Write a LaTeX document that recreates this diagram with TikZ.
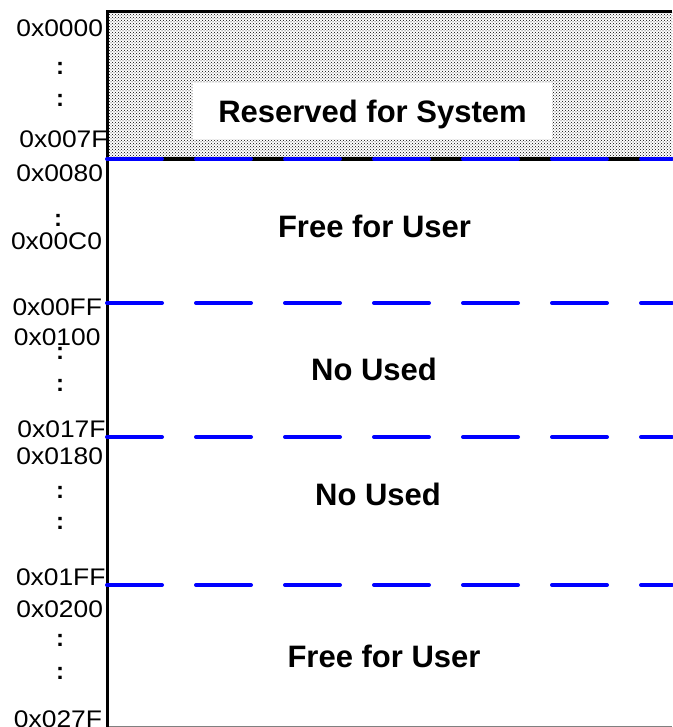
\documentclass[tikz,border=0pt]{standalone}
\usepackage{fontspec}
\setmainfont{Liberation Sans}
\newfontfamily\addrfont[FakeStretch=1.1]{Liberation Sans}
\usepackage{xcolor}
\usepackage{tikz}
\usetikzlibrary{patterns, positioning}

\begin{document}
\begin{tikzpicture}[
    x=1pt, y=-1pt,
    every node/.style={inner sep=0pt, outer sep=0pt},
    addr/.style={anchor=base east, font=\addrfont\fontsize{24}{28}\selectfont},
    vdots/.style={anchor=center, font=\bfseries\fontsize{24}{28}\selectfont},
    region/.style={anchor=base, font=\bfseries\fontsize{31}{36}\selectfont},
    border/.style={line width=3pt, black},
    bound/.style={line width=4pt, blue, line cap=round, dash pattern=on 55pt off 34pt}
]
\useasboundingbox (0,0) rectangle (672,727);

% Reserved area
\fill[pattern=crosshatch dots, pattern color=black] (107,12) rectangle (672,159);
\node[region, fill=white, anchor=center, minimum width=359pt, minimum height=56pt,
      text depth=0pt] (reserved) at (372.5,111) {Reserved for System};

% Memory outline
\coordinate (topl) at (107,12);
\coordinate (topr) at (672,12);
\coordinate (botl) at (107,727);
\coordinate (botr) at (672,726.5);
\draw[gray, line width=0.8pt] (botl |- botr) -- (botr);
\draw[border] (topr) -- (topl) -- (botl);

% Boundaries
\coordinate (b1l) at (107,159); \coordinate (b1r) at (672,159);
\coordinate (b2l) at (107,303); \coordinate (b2r) at (672,303);
\coordinate (b3l) at (107,437); \coordinate (b3r) at (672,437);
\coordinate (b4l) at (107,585); \coordinate (b4r) at (672,585);
\draw[line width=4pt, black] (b1l) -- (b1r);
\draw[bound] (b1l) -- (b1r);
\draw[bound] (b2l) -- (b2r);
\draw[bound] (b3l) -- (b3r);
\draw[bound] (b4l) -- (b4r);

% Region labels
\node[region] (free1) at (374.5,237) {Free for User};
\node[region] (unused1) at (374,380) {No Used};
\node[region] (unused2) at (378,505) {No Used};
\node[region] (free2) at (384,667) {Free for User};

% Addresses
\node[addr] (a0000) at (103,37) {0x0000};
\node[addr] (a007F) at (107.5,148) {0x007F};
\node[addr] (a0080) at (103,182) {0x0080};
\node[addr] (a00C0) at (102,249) {0x00C0};
\node[addr] (a00FF) at (102,315) {0x00FF};
\node[addr] (a0100) at (100.5,345) {0x0100};
\node[addr] (a017F) at (105.5,437) {0x017F};
\node[addr] (a0180) at (103,464) {0x0180};
\node[addr] (a01FF) at (105.5,585) {0x01FF};
\node[addr] (a0200) at (103,617) {0x0200};
\node[addr] (a027F) at (102,727) {0x027F};

% Dots
\node[vdots] (d1) at (60,68) {:};
\node[vdots] (d2) at (60,100) {:};
\node[vdots] (d3) at (58,220) {:};
\node[vdots] (d4) at (60,353) {:};
\node[vdots] (d5) at (60,385) {:};
\node[vdots] (d6) at (60,492) {:};
\node[vdots] (d7) at (60,523) {:};
\node[vdots] (d8) at (60,640) {:};
\node[vdots] (d9) at (60,673) {:};

\end{tikzpicture}
\end{document}
